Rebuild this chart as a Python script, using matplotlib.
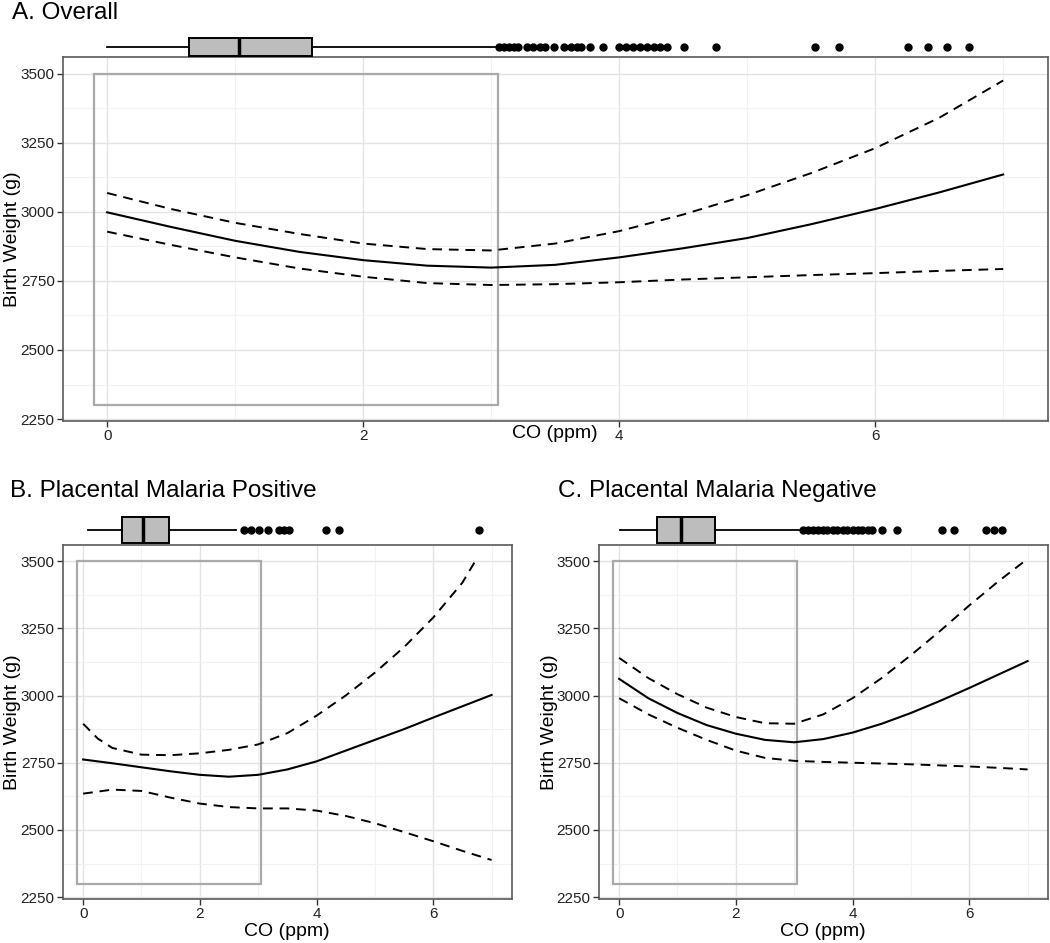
import matplotlib.pyplot as plt
from matplotlib.patches import Rectangle

plt.rcParams['font.family'] = ['Liberation Sans', 'DejaVu Sans']

# CO grid (ppm) the fitted curves were read at
co = [0, 0.5, 1, 1.5, 2, 2.5, 3, 3.5, 4, 4.5, 5, 5.5, 6, 6.5, 7]

# A. Overall
a_fit = [2998, 2945, 2895, 2855, 2825, 2805, 2798, 2808, 2835, 2868, 2905, 2955, 3010, 3070, 3135]
a_upper = [3068, 3010, 2960, 2920, 2885, 2865, 2860, 2885, 2930, 2990, 3060, 3140, 3230, 3340, 3475]
a_lower = [2928, 2880, 2835, 2795, 2765, 2742, 2735, 2738, 2745, 2755, 2763, 2771, 2778, 2786, 2793]

# B. Placental malaria positive (upper band leaves the plot at 3500)
b_fit = [2762, 2748, 2733, 2718, 2705, 2698, 2705, 2725, 2755, 2795, 2835, 2875, 2918, 2960, 3002]
b_upper_co = [0, 0.25, 0.5, 1, 1.5, 2, 2.5, 3, 3.5, 4, 4.5, 5, 5.5, 6, 6.5, 6.72]
b_upper = [2895, 2840, 2805, 2780, 2778, 2785, 2798, 2818, 2860, 2925, 3000, 3085, 3180, 3290, 3420, 3500]
b_lower = [2635, 2650, 2645, 2620, 2598, 2585, 2580, 2580, 2572, 2552, 2525, 2492, 2458, 2422, 2388]

# C. Placental malaria negative
c_fit = [3062, 2990, 2935, 2890, 2858, 2835, 2826, 2838, 2862, 2895, 2935, 2980, 3028, 3078, 3128]
c_upper_co = [0, 0.5, 1, 1.5, 2, 2.5, 3, 3.5, 4, 4.5, 5, 5.5, 6, 6.5, 6.95]
c_upper = [3140, 3065, 3005, 2955, 2920, 2897, 2895, 2930, 2990, 3065, 3150, 3240, 3335, 3425, 3500]
c_lower = [2990, 2930, 2880, 2835, 2795, 2768, 2757, 2753, 2750, 2747, 2744, 2740, 2736, 2731, 2725]

# marginal boxplot summaries of CO
a_box = dict(whislo=0.0, q1=0.64, med=1.03, q3=1.60, whishi=3.03,
             fliers=[3.06, 3.10, 3.14, 3.18, 3.21, 3.28, 3.33, 3.38, 3.42, 3.49, 3.57, 3.62,
                     3.67, 3.70, 3.77, 3.87, 4.00, 4.05, 4.11, 4.16, 4.22, 4.27, 4.32, 4.37,
                     4.51, 4.76, 5.53, 5.72, 6.26, 6.41, 6.56, 6.73])
b_box = dict(whislo=0.09, q1=0.66, med=1.02, q3=1.47, whishi=2.62,
             fliers=[2.76, 2.88, 3.02, 3.17, 3.36, 3.45, 3.52, 4.16, 4.38, 6.79])
c_box = dict(whislo=0.02, q1=0.65, med=1.06, q3=1.64, whishi=3.09,
             fliers=[3.15, 3.23, 3.32, 3.40, 3.49, 3.57, 3.66, 3.74, 3.83, 3.91, 4.00, 4.09,
                     4.17, 4.26, 4.34, 4.51, 4.77, 5.54, 5.74, 6.29, 6.43, 6.56])

# region of interest box
roi_x, roi_y, roi_w, roi_h = -0.1, 2300, 3.15, 1200

W, H = 1050, 943
fig = plt.figure(figsize=(W / 100, H / 100), dpi=100)


def px_axes(left, top, right, bottom):
    return fig.add_axes([left / W, 1 - bottom / H, (right - left) / W, (bottom - top) / H])


def panel(ax, fit_x, fit, up_x, up, lo_x, lo):
    ax.set_xlim(-0.345, 7.35)
    ax.set_ylim(2243, 3560)
    ax.set_xticks([0, 2, 4, 6])
    ax.set_xticks([1, 3, 5, 7], minor=True)
    ax.set_yticks([2250, 2500, 2750, 3000, 3250, 3500])
    ax.set_yticks([2375, 2625, 2875, 3125, 3375], minor=True)
    ax.grid(which='major', color='#e3e3e3', lw=1.0)
    ax.grid(which='minor', color='#f2f2f2', lw=0.8)
    ax.set_axisbelow(True)
    ax.tick_params(which='major', length=4, width=1, color='#333333', labelcolor='#222222',
                   labelsize=11, pad=2, top=False, right=False)
    ax.tick_params(which='minor', length=0)
    for s in ax.spines.values():
        s.set_color('#5a5a5a')
        s.set_linewidth(1.2)
    ax.add_patch(Rectangle((roi_x, roi_y), roi_w, roi_h, fill=False, ec='#aaaaaa', lw=1.6))
    ax.plot(fit_x, fit, color='black', lw=1.5)
    ax.plot(up_x, up, color='black', lw=1.4, ls=(0, (5, 3.5)))
    ax.plot(lo_x, lo, color='black', lw=1.4, ls=(0, (5, 3.5)))


def marginal(ax, stats):
    ax.set_xlim(-0.345, 7.35)
    ax.set_ylim(-0.5, 0.5)
    ax.axis('off')
    art = ax.bxp([stats], positions=[0], widths=1, orientation='horizontal', patch_artist=True,
                 showcaps=False,
                 boxprops=dict(facecolor='#bdbdbd', edgecolor='black', lw=1.4),
                 medianprops=dict(color='black', lw=2.5),
                 whiskerprops=dict(color='black', lw=1.3),
                 flierprops=dict(marker='o', markerfacecolor='black', markeredgecolor='black',
                                 markersize=5))
    for group in art.values():
        for a in group:
            a.set_clip_on(False)


ax_a = px_axes(63, 57, 1048, 421)
panel(ax_a, co, a_fit, co, a_upper, co, a_lower)
marginal(px_axes(63, 38, 1048, 56), a_box)

ax_b = px_axes(63, 545, 512, 899)
panel(ax_b, co, b_fit, b_upper_co, b_upper, co, b_lower)
marginal(px_axes(63, 517, 512, 543), b_box)

ax_c = px_axes(599, 545, 1048, 899)
panel(ax_c, co, c_fit, c_upper_co, c_upper, co, c_lower)
marginal(px_axes(599, 517, 1048, 543), c_box)

# titles and axis labels
fig.text(12 / W, 1 - 13 / H, 'A. Overall', fontsize=17.5, va='center', ha='left')
fig.text(10 / W, 1 - 491 / H, 'B. Placental Malaria Positive', fontsize=17.5, va='center', ha='left')
fig.text(558 / W, 1 - 491 / H, 'C. Placental Malaria Negative', fontsize=17.5, va='center', ha='left')

fig.text(555 / W, 1 - 434 / H, 'CO (ppm)', fontsize=14, ha='center', va='center')
fig.text(287 / W, 1 - 931 / H, 'CO (ppm)', fontsize=14, ha='center', va='center')
fig.text(823 / W, 1 - 931 / H, 'CO (ppm)', fontsize=14, ha='center', va='center')

fig.text(13 / W, 1 - 239 / H, 'Birth Weight (g)', fontsize=14, rotation=90, ha='center', va='center')
fig.text(13 / W, 1 - 722 / H, 'Birth Weight (g)', fontsize=14, rotation=90, ha='center', va='center')
fig.text(549 / W, 1 - 722 / H, 'Birth Weight (g)', fontsize=14, rotation=90, ha='center', va='center')

fig.savefig('out.png', dpi=100)
